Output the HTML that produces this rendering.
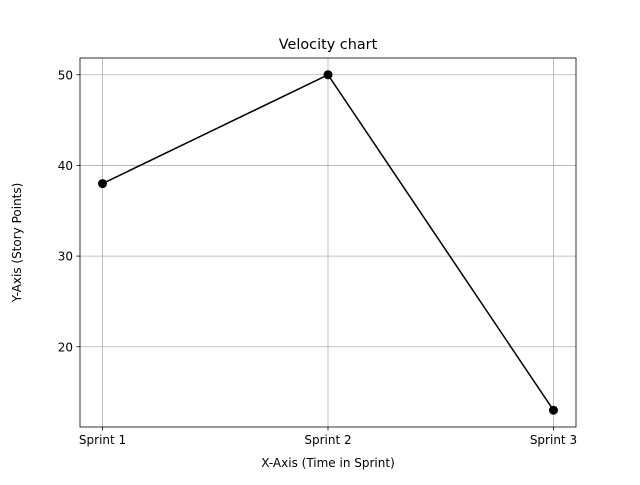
<!DOCTYPE html>
<html><head><meta charset="utf-8"><style>
body{margin:0;background:#fff;}
svg text{font-family:"DejaVu Sans","Liberation Sans",sans-serif;fill:#000;}
</style></head><body>
<svg id="chart" width="640" height="480" xmlns="http://www.w3.org/2000/svg">
<rect width="640" height="480" fill="#fff"/>
<g id="grid"></g>
<g id="marks"></g>
<rect x="80" y="58" width="496" height="369" fill="none" stroke="#000" stroke-width="0.8"/>
<g id="ticks"></g>
<text x="328" y="49" font-size="14.4" text-anchor="middle">Velocity chart</text>
<text x="328" y="467" font-size="12" text-anchor="middle">X-Axis (Time in Sprint)</text>
<text transform="translate(21,242.5) rotate(-90)" font-size="12" text-anchor="middle">Y-Axis (Story Points)</text>
</svg>
<script>
const categories=["Sprint 1","Sprint 2","Sprint 3"];
const storyPoints=[38,50,13];
const yTicks=[20,30,40,50];
const L=80,R=576,T=58,B=427,NS="http://www.w3.org/2000/svg";
const ymin=Math.min(...storyPoints),ymax=Math.max(...storyPoints),pad=(ymax-ymin)*0.05;
const y0=ymin-pad,y1=ymax+pad;
const xs=i=>L+(i+0.1)/(categories.length-1+0.2)*(R-L);
const ys=v=>B-(v-y0)/(y1-y0)*(B-T);
function mk(t,a,p){const e=document.createElementNS(NS,t);for(const k in a)e.setAttribute(k,a[k]);p.appendChild(e);return e;}
const g=document.getElementById('grid'),m=document.getElementById('marks'),tk=document.getElementById('ticks');
categories.forEach((c,i)=>{const x=xs(i);
const gl=mk('line',{x1:x,x2:x,y1:T,y2:B,stroke:'#b0b0b0','stroke-width':0.8},g);

mk('line',{x1:x,x2:x,y1:B,y2:B+3.5,stroke:'#000','stroke-width':0.8},tk);
const t=mk('text',{x:x,y:B+17,'font-size':12,'text-anchor':'middle'},tk);t.textContent=c;
});
yTicks.forEach(v=>{const y=ys(v);
const gl=mk('line',{x1:L,x2:R,y1:y,y2:y,stroke:'#b0b0b0','stroke-width':0.8},g);

mk('line',{x1:L-3.5,x2:L,y1:y,y2:y,stroke:'#000','stroke-width':0.8},tk);
const t=mk('text',{x:L-7,y:y+4.5,'font-size':12,'text-anchor':'end'},tk);t.textContent=v;
});
const pl=mk('polyline',{points:storyPoints.map((v,i)=>xs(i)+','+ys(v)).join(' '),fill:'none',stroke:'#000','stroke-width':1.5},m);

storyPoints.forEach((v,i)=>{const c=mk('circle',{cx:xs(i),cy:ys(v),r:4.5,fill:'#000'},m);
});
</script>
</body></html>
